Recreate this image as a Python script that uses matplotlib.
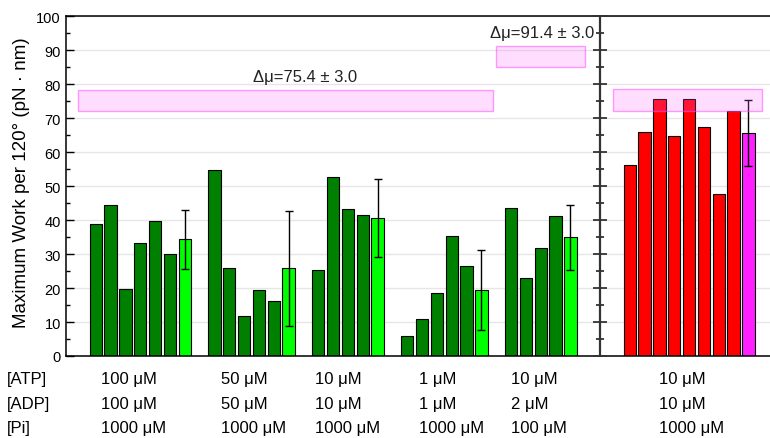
import matplotlib
matplotlib.use("Agg")
import matplotlib.pyplot as plt
from matplotlib.patches import Rectangle
from matplotlib.ticker import MultipleLocator

plt.rcParams.update({"font.family": ["Liberation Sans", "DejaVu Sans"], "font.size": 10.5})

# individual runs (dark green) and group mean +/- sd (light green), per condition
runs = [
    [38.8, 44.5, 19.8, 33.2, 39.7, 29.9],
    [54.7, 26.0, 11.7, 19.4, 16.3],
    [25.3, 52.6, 43.3, 41.6],
    [6.0, 10.8, 18.5, 35.4, 26.4],
    [43.7, 22.9, 31.9, 41.2],
]
means = [34.3, 25.8, 40.6, 19.4, 34.9]
errs = [8.7, 17.0, 11.5, 11.8, 9.6]
starts = [0, 8, 15, 21, 28]

# right panel
red_runs = [56.1, 65.9, 75.8, 64.9, 75.6, 67.3, 47.8, 72.2]
red_mean, red_err = 65.7, 9.7
red_start = 36

# delta-mu bands (x0, x1, low, high) and their labels
bands = [(-1.2, 26.8, 72.1, 78.4), (27.0, 33.0, 85.1, 91.2), (34.85, 44.95, 72.0, 78.6)]
band_labels = [(14.1, 82.4, "Δμ=75.4 ± 3.0"), (30.1, 95.1, "Δμ=91.4 ± 3.0")]

row_names = ["[ATP]", "[ADP]", "[Pi]"]
conc = [
    ["100 μM", "50 μM", "10 μM", "1 μM", "10 μM", "10 μM"],
    ["100 μM", "50 μM", "10 μM", "1 μM", "2 μM", "10 μM"],
    ["1000 μM", "1000 μM", "1000 μM", "1000 μM", "100 μM", "1000 μM"],
]

W, H = 770, 439
fig = plt.figure(figsize=(W / 100, H / 100), dpi=100)
ax = fig.add_axes([65.7 / W, 1 - 357 / H, 1 - 65.7 / W, (357 - 17.3) / H])

bw = 0.83
for vals, m, e, s in zip(runs, means, errs, starts):
    xs = [s + i for i in range(len(vals))]
    ax.bar(xs, vals, bw, color="#008000", edgecolor="black", lw=0.8, zorder=2)
    xm = s + len(vals)
    ax.bar(xm, m, bw, color="#00ff00", edgecolor="black", lw=0.8, zorder=2)
    ax.errorbar(xm, m, yerr=e, fmt="none", ecolor="black", elinewidth=1, capsize=3, capthick=1, zorder=3)

xs = [red_start + i for i in range(len(red_runs))]
ax.bar(xs, red_runs, bw, color="#ff0000", edgecolor="black", lw=0.8, zorder=2)
xm = red_start + len(red_runs)
ax.bar(xm, red_mean, bw, color="#ff20ff", edgecolor="black", lw=0.8, zorder=2)
ax.errorbar(xm, red_mean, yerr=red_err, fmt="none", ecolor="black", elinewidth=1, capsize=3, capthick=1, zorder=3)

for x0, x1, lo, hi in bands:
    ax.add_patch(Rectangle((x0, lo), x1 - x0, hi - lo, facecolor=(1, 0.4, 1, 0.22),
                           edgecolor=(1, 0.3, 1, 0.55), lw=1, zorder=4))
for x, y, t in band_labels:
    ax.text(x, y, t, ha="center", va="center", fontsize=12, color="#222222", zorder=5)

ax.set_xlim(-2.03, 45.46)
ax.set_ylim(0, 100)
ax.set_xticks([])
ax.yaxis.set_major_locator(MultipleLocator(10))
ax.yaxis.set_minor_locator(MultipleLocator(5))
ax.tick_params(axis="y", which="major", direction="in", length=6, width=1)
ax.tick_params(axis="y", which="minor", direction="in", length=3, width=1)
ax.grid(axis="y", color="#e6e6e6", lw=1, zorder=0)
ax.set_axisbelow(True)
ax.spines["right"].set_visible(False)
for sp in ("left", "top", "bottom"):
    ax.spines[sp].set_linewidth(1.1)

# divider between panels, with its own ticks
ax.axvline(34, color="#333333", lw=1.6, zorder=5)
dv = fig.add_axes([600 / W, 1 - 357 / H, 0.0001, (357 - 17.3) / H])
dv.set_ylim(0, 100)
dv.set_xticks([])
dv.patch.set_visible(False)
for sp in ("left", "right", "top", "bottom"):
    dv.spines[sp].set_visible(False)
dv.yaxis.set_major_locator(MultipleLocator(10))
dv.yaxis.set_minor_locator(MultipleLocator(5))
dv.tick_params(axis="y", which="major", direction="inout", length=10, width=1.3, color="#333333", labelleft=False)
dv.tick_params(axis="y", which="minor", direction="inout", length=6, width=1.3, color="#333333", labelleft=False)

fig.text(22 / W, 1 - 183 / H, "Maximum Work per 120° (pN · nm)", rotation=90,
         ha="center", va="center", fontsize=13.5)

col_x = [101, 221, 315, 419, 511, 659]
row_y = [380, 405, 429]
for name, vals, py in zip(row_names, conc, row_y):
    fig.text(7 / W, 1 - py / H, name, ha="left", va="center", fontsize=12)
    for px, t in zip(col_x, vals):
        fig.text(px / W, 1 - py / H, t, ha="left", va="center", fontsize=12)

fig.savefig("out.png", dpi=100)
